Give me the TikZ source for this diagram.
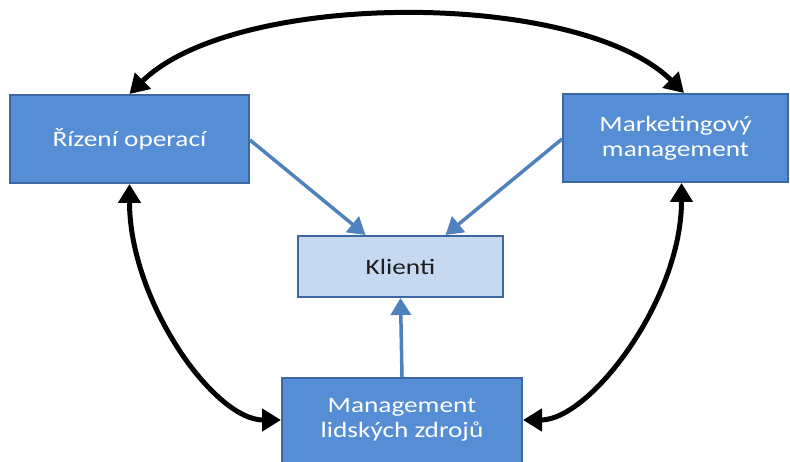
\documentclass[tikz,border=0pt]{standalone}
\usepackage{fontspec}
\setmainfont{Carlito}[FakeStretch=1.24]
\usetikzlibrary{arrows.meta,calc}
\definecolor{boxfill}{RGB}{85,142,213}
\definecolor{boxline}{RGB}{60,104,162}
\definecolor{clientfill}{RGB}{198,217,241}
\definecolor{flowblue}{RGB}{79,129,189}
\definecolor{clienttext}{RGB}{30,30,30}
\tikzset{
  unit/.style={draw=boxline, line width=2pt, fill=boxfill, text=white,
    align=center, inner sep=0pt, font=\fontsize{22}{25}\selectfont},
  unitlabel/.style={text=white, align=center, inner sep=0pt,
    font=\fontsize{22}{25}\selectfont},
  client/.style={draw=boxline, line width=2pt, fill=clientfill, text=clienttext,
    align=center, inner sep=0pt, font=\fontsize{22}{25}\selectfont},
  link/.style={line width=5pt, black,
    arrows={Triangle[length=19pt,width=22pt]-Triangle[length=19pt,width=22pt]}},
  feed/.style={line width=3.5pt, flowblue,
    -{Triangle[length=17pt,width=20pt]}}
}
\begin{document}
\begin{tikzpicture}[x=1pt,y=1pt]
\useasboundingbox (0,0) rectangle (790,461);
% departments
\node[unit, minimum width=239pt, minimum height=88pt] (ops) at (129.5,322) {Řízení operací};
\node[unit, minimum width=225pt, minimum height=88pt] (mkt) at (675.5,323) {Marketingový\\management};
% the lower box runs past the bottom edge
\node[unit, minimum width=240pt, minimum height=100pt] (hrbox) at (402,33) {};
\node[unitlabel] (hr) at (402,41) {Management\\lidských zdrojů};
% customers in the middle
\node[client, minimum width=205pt, minimum height=61pt] (kl) at (400.5,194.5) {Klienti};
% mutual links between departments
\draw[link] (ops.north) .. controls +(105,104) and +(-105,104) .. ($(mkt.north)+(8.5,0)$);
\draw[link] (ops.south) .. controls +(0,-117) and +(-67,0) .. ($(hrbox.west)+(0,8)$);
\draw[link] ($(mkt.south)+(6,0)$) .. controls +(0,-117) and +(67,0) .. ($(hrbox.east)+(0,8)$);
% each department serves the customers
\draw[feed] ($(ops.east)+(0,-1)$) -- ($(kl.north)+(-35,0)$);
\draw[feed] ($(mkt.west)+(0,-1)$) -- ($(kl.north)+(45,0)$);
\draw[feed] (hrbox.north) -- (kl.south);
\end{tikzpicture}
\end{document}
